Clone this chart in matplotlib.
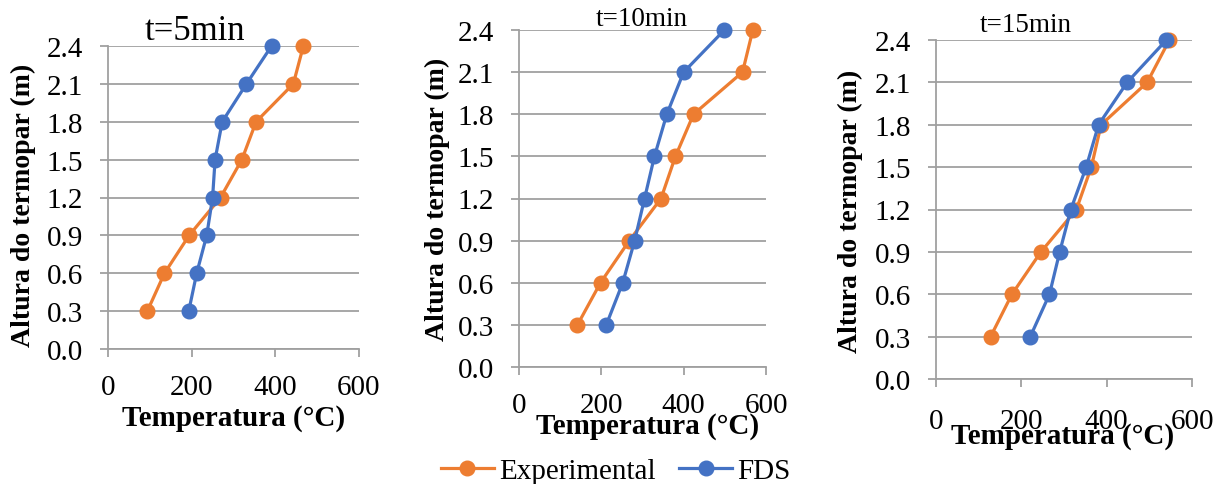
import numpy as np
import matplotlib.pyplot as plt
from matplotlib.lines import Line2D

heights = [0.3, 0.6, 0.9, 1.2, 1.5, 1.8, 2.1, 2.4]

exp_5 = [94, 135, 194, 269, 320, 354, 443, 467]
fds_5 = [193, 212, 236, 250, 256, 273, 331, 391]

exp_10 = [142, 198, 268, 345, 380, 424, 543, 568]
fds_10 = [212, 252, 281, 305, 329, 359, 400, 499]

exp_15 = [128, 178, 246, 329, 364, 387, 495, 547]
fds_15 = [221, 266, 290, 316, 352, 381, 448, 540]

titles = ["t=5min", "t=10min", "t=15min"]
ORANGE = "#ED7D31"
BLUE = "#4472C4"
GRID = "#A0A0A0"

plt.rcParams["font.family"] = ["Liberation Serif", "DejaVu Serif"]

W, H = 1226, 485
fig = plt.figure(figsize=(W / 100, H / 100), dpi=100)


def px_axes(x0, x1, ytop, ybot):
    return fig.add_axes([x0 / W, 1 - ybot / H, (x1 - x0) / W, (ybot - ytop) / H])


panels = [
    dict(box=(108, 359, 47, 350), exp=exp_5, fds=fds_5,
         title_xy=(195, 32), title_fs=25, ylab_xy=(23, 205), xlab_xy=(234, 418)),
    dict(box=(519, 766, 31, 368), exp=exp_10, fds=fds_10,
         title_xy=(642, 19), title_fs=19.5, ylab_xy=(437, 199), xlab_xy=(648, 427)),
    dict(box=(936, 1192, 41, 380), exp=exp_15, fds=fds_15,
         title_xy=(1026, 25), title_fs=19.5, ylab_xy=(850, 211), xlab_xy=(1063, 437)),
]

for i, p in enumerate(panels):
    ax = px_axes(*p["box"])
    ax.plot(p["exp"], heights, color=ORANGE, lw=2.3, marker="o", ms=10.5, clip_on=False, zorder=3)
    ax.plot(p["fds"], heights, color=BLUE, lw=2.3, marker="o", ms=10.5, clip_on=False, zorder=4)
    ax.set_xlim(0, 600)
    ax.set_ylim(0, 2.4)
    ax.set_xticks([0, 200, 400, 600])
    ax.set_yticks(np.arange(0, 2.41, 0.3))
    ax.set_yticklabels([f"{v:.1f}" for v in np.arange(0, 2.41, 0.3)])
    ax.grid(axis="y", color=GRID, lw=1.3)
    ax.set_axisbelow(True)
    for s in ["top", "right"]:
        ax.spines[s].set_visible(False)
    ax.spines["left"].set_color(GRID)
    ax.spines["bottom"].set_color(GRID)
    ax.spines["left"].set_linewidth(1.3)
    ax.spines["bottom"].set_linewidth(1.3)
    ax.tick_params(axis="both", colors=GRID, length=6, width=1.3, labelsize=21,
                   labelcolor="black")
    ax.tick_params(axis="y", pad=12)
    ax.tick_params(axis="x", pad=12)
    if i == 2:
        ax.tick_params(axis="x", pad=15)
    fig.text(p["title_xy"][0] / W, 1 - p["title_xy"][1] / H, titles[i],
             fontsize=p["title_fs"], ha="center", va="center")
    fig.text(p["ylab_xy"][0] / W, 1 - p["ylab_xy"][1] / H, "Altura do termopar (m)",
             fontsize=20, fontweight="bold", rotation=90, ha="center", va="center")
    fig.text(p["xlab_xy"][0] / W, 1 - p["xlab_xy"][1] / H, "Temperatura (°C)",
             fontsize=21, fontweight="bold", ha="center", va="center")

handles = [
    Line2D([], [], color=ORANGE, lw=2.3, marker="o", ms=10.5),
    Line2D([], [], color=BLUE, lw=2.3, marker="o", ms=10.5),
]
fig.legend(handles, ["Experimental", "FDS"], loc="center", bbox_to_anchor=(616 / W, 1 - 472 / H),
           ncol=2, frameon=False, fontsize=21, handlelength=1.8, handletextpad=0.2,
           columnspacing=0.8)

fig.savefig("out.png", dpi=100)
